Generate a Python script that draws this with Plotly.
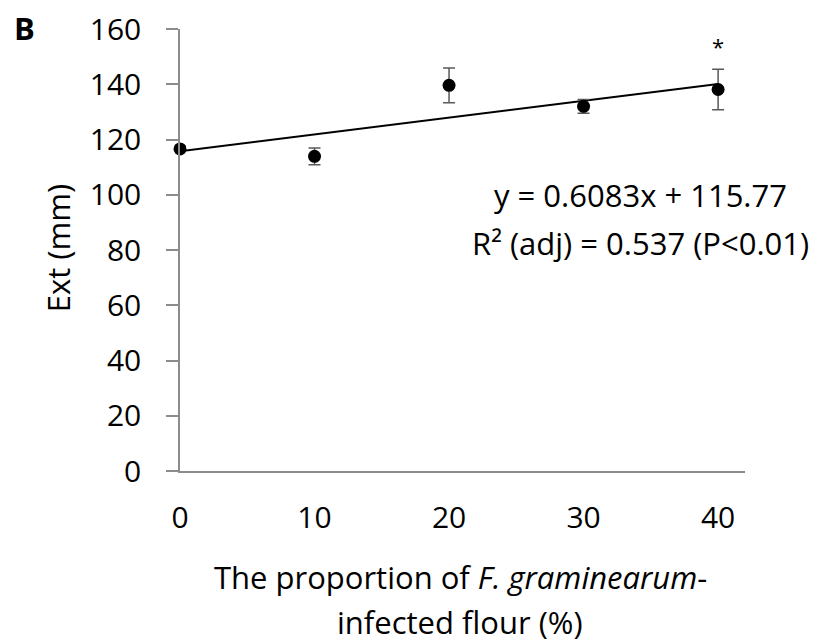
import plotly.graph_objects as go

# Data
proportion = [0, 10, 20, 30, 40]
ext_mean = [116.6, 113.9, 139.6, 132.0, 138.1]
ext_err = [1.0, 3.0, 6.3, 2.5, 7.3]
slope = 0.6083
intercept = 115.77
trend_x = [0, 40]
trend_y = [slope * v + intercept for v in trend_x]
x_ticks = [0, 10, 20, 30, 40]
y_ticks = [0, 20, 40, 60, 80, 100, 120, 140, 160]
eq_lines = ["y = 0.6083x + 115.77", "R² (adj) = 0.537 (P<0.01)"]
xtitle_lines = ["The proportion of <i>F. graminearum</i>-", "infected flour (%)"]

FONT = "'Open Sans', sans-serif"
FS = 30
FS_T = 31

fig = go.Figure()
fig.add_trace(go.Scatter(
    x=trend_x, y=trend_y, mode="lines",
    line=dict(color="black", width=2), hoverinfo="skip", showlegend=False,
    cliponaxis=False))
fig.add_trace(go.Scatter(
    x=proportion, y=ext_mean, mode="markers",
    marker=dict(color="black", size=13),
    error_y=dict(type="data", array=ext_err, visible=True,
                 color="#595959", thickness=1.5, width=6),
    showlegend=False, cliponaxis=False))

fig.update_layout(
    width=829, height=643,
    margin=dict(l=180, r=84, t=29, b=172, autoexpand=False),
    paper_bgcolor="white", plot_bgcolor="white",
    font=dict(family=FONT, size=FS, color="black"),
    showlegend=False,
)
fig.update_xaxes(
    range=[0, 42], tickvals=x_ticks, ticktext=[str(v) for v in x_ticks],
    showline=True, linecolor="#8c8c8c", linewidth=1.5,
    ticks="", showgrid=False, zeroline=False,
    ticklabelstandoff=19,
    tickfont=dict(family=FONT, size=FS, color="black"),
)
fig.update_yaxes(
    range=[0, 160], tickvals=y_ticks, ticktext=[str(v) for v in y_ticks],
    showline=True, linecolor="#8c8c8c", linewidth=1.5,
    ticks="outside", ticklen=12, tickcolor="#8c8c8c", tickwidth=1.5,
    showgrid=False, zeroline=False,
    ticklabelstandoff=19,
    tickfont=dict(family=FONT, size=FS, color="black"),
)

annos = []
# equation
annos.append(dict(x=34.2, y=100.0, xref="x", yref="y", text=eq_lines[0],
                  showarrow=False, xanchor="center", yanchor="middle",
                  font=dict(family=FONT, size=FS_T, color="black")))
annos.append(dict(x=34.2, y=82.6, xref="x", yref="y", text=eq_lines[1],
                  showarrow=False, xanchor="center", yanchor="middle",
                  font=dict(family=FONT, size=FS_T, color="black")))
# significance
annos.append(dict(x=40, y=154, xref="x", yref="y", text="*",
                  showarrow=False, xanchor="center", yanchor="middle",
                  font=dict(family=FONT, size=22, color="black")))
# x title lines
annos.append(dict(x=0.4956, y=-0.2407, xref="paper", yref="paper", text=xtitle_lines[0],
                  showarrow=False, xanchor="center", yanchor="middle",
                  font=dict(family=FONT, size=FS_T, color="black")))
annos.append(dict(x=0.4956, y=-0.3425, xref="paper", yref="paper", text=xtitle_lines[1],
                  showarrow=False, xanchor="center", yanchor="middle",
                  font=dict(family=FONT, size=FS_T, color="black")))
# y title
annos.append(dict(x=-0.216, y=0.504, xref="paper", yref="paper", text="Ext (mm)",
                  textangle=-90, showarrow=False, xanchor="center", yanchor="middle",
                  font=dict(family=FONT, size=FS_T, color="black")))
# panel label
annos.append(dict(x=-0.276, y=1.003, xref="paper", yref="paper", text="<b>B</b>",
                  showarrow=False, xanchor="center", yanchor="middle",
                  font=dict(family=FONT, size=31, color="black")))
fig.update_layout(annotations=annos)

fig.write_html("out.html")
